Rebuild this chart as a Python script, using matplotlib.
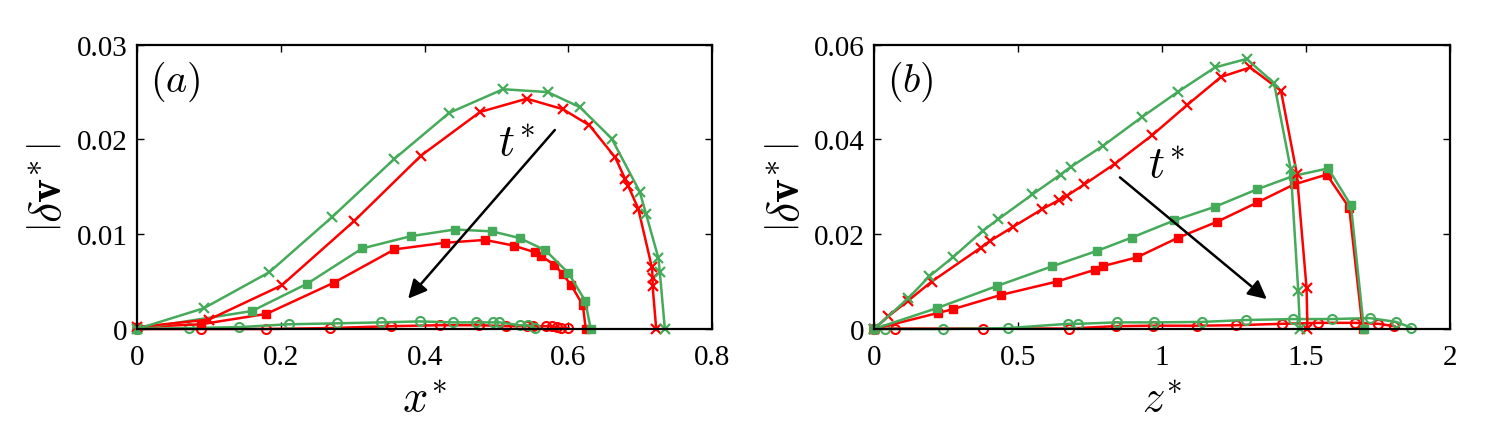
import matplotlib
matplotlib.use("Agg")
import matplotlib.pyplot as plt

plt.rcParams["font.family"] = "serif"
plt.rcParams["font.serif"] = ["Liberation Serif", "DejaVu Serif"]
plt.rcParams["mathtext.fontset"] = "cm"

RED = "#ff0000"
GREEN = "#45ab5a"

# --- panel (a): |dv*| against x* ---
a_gx_x = [0, 0.093, 0.184, 0.271, 0.357, 0.434, 0.509, 0.571, 0.616, 0.660, 0.699, 0.708, 0.725, 0.727, 0.734]
a_gx_y = [0, 0.0022, 0.0060, 0.0118, 0.0179, 0.0228, 0.0253, 0.0250, 0.0234, 0.0201, 0.0145, 0.0121, 0.0075, 0.0060, 0]
a_rx_x = [0, 0.100, 0.201, 0.302, 0.395, 0.477, 0.542, 0.592, 0.629, 0.665, 0.679, 0.683, 0.697, 0.716, 0.717, 0.717, 0.722]
a_rx_y = [0.0002, 0.0010, 0.0046, 0.0114, 0.0183, 0.0229, 0.0243, 0.0232, 0.0215, 0.0181, 0.0158, 0.0151, 0.0127, 0.0065, 0.0054, 0.0045, 0]
a_gs_x = [0, 0.160, 0.237, 0.313, 0.381, 0.442, 0.494, 0.532, 0.568, 0.600, 0.623, 0.631]
a_gs_y = [0, 0.0019, 0.0048, 0.0085, 0.0098, 0.0105, 0.0103, 0.0096, 0.0083, 0.0059, 0.0030, 0]
a_rs_x = [0, 0.089, 0.180, 0.274, 0.358, 0.428, 0.484, 0.524, 0.553, 0.562, 0.580, 0.592, 0.604, 0.620, 0.624]
a_rs_y = [0.0002, 0.0005, 0.0016, 0.0049, 0.0084, 0.0091, 0.0094, 0.0088, 0.0081, 0.0077, 0.0068, 0.0058, 0.0046, 0.0025, 0]
a_go_x = [0, 0.072, 0.142, 0.211, 0.278, 0.339, 0.393, 0.439, 0.472, 0.495, 0.504, 0.532, 0.543, 0.554]
a_go_y = [0, 0.0001, 0.0002, 0.0005, 0.0006, 0.0007, 0.0008, 0.0007, 0.0007, 0.0007, 0.0007, 0.0004, 0.0004, 0.0001]
a_ro_x = [0, 0.089, 0.179, 0.268, 0.353, 0.421, 0.476, 0.513, 0.542, 0.551, 0.569, 0.577, 0.584, 0.590, 0.600]
a_ro_y = [0, 0, 0, 0.0001, 0.0003, 0.0004, 0.0004, 0.0003, 0.0003, 0.0003, 0.0003, 0.0003, 0.0002, 0.0001, 0.0001]

# --- panel (b): |dv*| against z* ---
b_gx_x = [0, 0.119, 0.192, 0.275, 0.377, 0.432, 0.550, 0.648, 0.683, 0.796, 0.932, 1.054, 1.184, 1.294, 1.389, 1.447, 1.473, 1.479]
b_gx_y = [0, 0.0065, 0.0111, 0.0152, 0.0207, 0.0232, 0.0284, 0.0326, 0.0342, 0.0387, 0.0448, 0.0500, 0.0552, 0.0570, 0.0519, 0.0337, 0.0081, 0]
b_rx_x = [0, 0.050, 0.119, 0.200, 0.372, 0.403, 0.484, 0.584, 0.642, 0.669, 0.730, 0.837, 0.966, 1.086, 1.205, 1.306, 1.413, 1.468, 1.502, 1.505]
b_rx_y = [0, 0.0027, 0.0060, 0.0100, 0.0172, 0.0186, 0.0216, 0.0253, 0.0272, 0.0281, 0.0305, 0.0349, 0.0409, 0.0472, 0.0532, 0.0552, 0.0503, 0.0328, 0.0086, 0]
b_gs_x = [0, 0.218, 0.428, 0.617, 0.775, 0.895, 1.042, 1.184, 1.331, 1.456, 1.577, 1.656, 1.701]
b_gs_y = [0, 0.0044, 0.0091, 0.0132, 0.0165, 0.0193, 0.0229, 0.0258, 0.0295, 0.0323, 0.0339, 0.0261, 0]
b_rs_x = [0, 0.223, 0.275, 0.441, 0.634, 0.767, 0.796, 0.912, 1.057, 1.190, 1.331, 1.458, 1.572, 1.650, 1.697]
b_rs_y = [0, 0.0034, 0.0042, 0.0072, 0.0100, 0.0125, 0.0133, 0.0151, 0.0193, 0.0226, 0.0267, 0.0305, 0.0326, 0.0256, 0]
b_go_x = [0, 0.038, 0.239, 0.466, 0.675, 0.709, 0.843, 0.972, 1.140, 1.292, 1.454, 1.589, 1.722, 1.813, 1.865]
b_go_y = [0, 0, 0, 0.0002, 0.0011, 0.0011, 0.0014, 0.0014, 0.0015, 0.0019, 0.0021, 0.0021, 0.0023, 0.0015, 0.0003]
b_ro_x = [0, 0.073, 0.377, 0.677, 0.839, 0.970, 1.120, 1.257, 1.416, 1.543, 1.670, 1.751, 1.807]
b_ro_y = [0, 0.0001, 0.0001, 0.0001, 0.0006, 0.0007, 0.0007, 0.0008, 0.0011, 0.0013, 0.0013, 0.0011, 0.0006]

a_xticks = [0, 0.2, 0.4, 0.6, 0.8]
a_xticklabels = ["0", "0.2", "0.4", "0.6", "0.8"]
a_yticks = [0, 0.01, 0.02, 0.03]
a_yticklabels = ["0", "0.01", "0.02", "0.03"]
b_xticks = [0, 0.5, 1, 1.5, 2]
b_xticklabels = ["0", "0.5", "1", "1.5", "2"]
b_yticks = [0, 0.02, 0.04, 0.06]
b_yticklabels = ["0", "0.02", "0.04", "0.06"]


def draw_series(ax, x, y, color, marker):
    if marker == "o":
        ax.plot(x, y, color=color, lw=1.8, marker="o", ms=6.5, mfc="none", mew=1.5, clip_on=False)
    elif marker == "s":
        ax.plot(x, y, color=color, lw=1.8, marker="s", ms=6, clip_on=False)
    else:
        ax.plot(x, y, color=color, lw=1.8, marker="x", ms=7, mew=1.6, clip_on=False)


def style_axes(ax, xticks, xlabels, yticks, ylabels, xlim, ylim):
    ax.set_xlim(*xlim)
    ax.set_ylim(*ylim)
    ax.set_xticks(xticks)
    ax.set_xticklabels(xlabels)
    ax.set_yticks(yticks)
    ax.set_yticklabels(ylabels)
    ax.tick_params(direction="in", top=True, right=True, length=5, width=1,
                   labelsize=21)
    ax.tick_params(axis="x", pad=11)
    ax.tick_params(axis="y", pad=7)
    for sp in ax.spines.values():
        sp.set_linewidth(1.6)


fig = plt.figure(figsize=(14.93, 4.31), dpi=100)
ax_a = fig.add_axes([0.0918, 0.2343, 0.3853, 0.6597])
ax_b = fig.add_axes([0.5854, 0.2343, 0.3858, 0.6597])

draw_series(ax_a, a_ro_x, a_ro_y, RED, "o")
draw_series(ax_a, a_go_x, a_go_y, GREEN, "o")
draw_series(ax_a, a_rs_x, a_rs_y, RED, "s")
draw_series(ax_a, a_gs_x, a_gs_y, GREEN, "s")
draw_series(ax_a, a_rx_x, a_rx_y, RED, "x")
draw_series(ax_a, a_gx_x, a_gx_y, GREEN, "x")

draw_series(ax_b, b_ro_x, b_ro_y, RED, "o")
draw_series(ax_b, b_go_x, b_go_y, GREEN, "o")
draw_series(ax_b, b_rs_x, b_rs_y, RED, "s")
draw_series(ax_b, b_gs_x, b_gs_y, GREEN, "s")
draw_series(ax_b, b_rx_x, b_rx_y, RED, "x")
draw_series(ax_b, b_gx_x, b_gx_y, GREEN, "x")

style_axes(ax_a, a_xticks, a_xticklabels, a_yticks, a_yticklabels, (0, 0.8), (0, 0.03))
style_axes(ax_b, b_xticks, b_xticklabels, b_yticks, b_yticklabels, (0, 2), (0, 0.06))

arrow = dict(arrowstyle="-|>", color="k", lw=1.8, mutation_scale=28, shrinkA=0, shrinkB=0)
ax_a.annotate("", xy=(0.377, 0.0032), xytext=(0.581, 0.0210), arrowprops=arrow)
ax_b.annotate("", xy=(1.364, 0.0063), xytext=(0.854, 0.0320), arrowprops=arrow)
ax_a.text(0.528, 0.0195, r"$t^{\!*}$", fontsize=32, ha="center", va="center")
ax_b.text(1.017, 0.0345, r"$t^{\!*}$", fontsize=32, ha="center", va="center")

ax_a.text(0.066, 0.873, r"$(a)$", transform=ax_a.transAxes, fontsize=29, ha="center", va="center")
ax_b.text(0.0625, 0.873, r"$(b)$", transform=ax_b.transAxes, fontsize=29, ha="center", va="center")

for ax, xl, ly in ((ax_a, r"$x^{\!*}$", -0.151), (ax_b, r"$z^{\!*}$", -0.149)):
    ax.set_xlabel(xl, fontsize=32, va="center")
    ax.xaxis.set_label_coords(0.5, -0.25)
    ax.set_ylabel(r"$\left|\delta\mathbf{v}^{\!*}\right|$", fontsize=33, va="center")
    ax.yaxis.set_label_coords(ly, 0.5)

fig.savefig("out.png", dpi=100)
